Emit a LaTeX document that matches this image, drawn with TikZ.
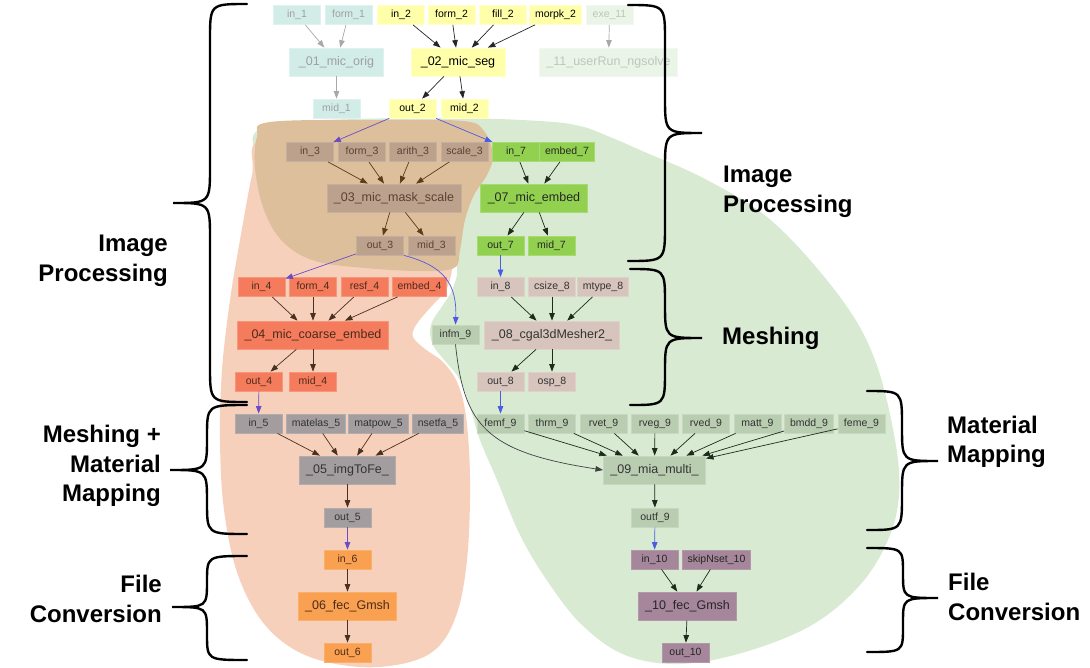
\documentclass[tikz,border=0pt]{standalone}
\usepackage{fontspec}
\setmainfont{Liberation Sans}
\usetikzlibrary{arrows.meta}
\definecolor{bgG}{HTML}{D9EAD3}
\definecolor{bgS}{HTML}{F7D0BC}
\definecolor{bgT}{HTML}{DDBF9C}
\definecolor{fA}{HTML}{D2ECE8}\definecolor{tA}{HTML}{A0A0A0}\definecolor{aA}{HTML}{A8A8A8}
\definecolor{fB}{HTML}{FFFFAA}
\definecolor{fK}{HTML}{EAF4E7}\definecolor{tK}{HTML}{BCC6BA}
\definecolor{fC}{HTML}{BCA18D}\definecolor{tC}{HTML}{5A4232}\definecolor{aC}{HTML}{5A3C1E}
\definecolor{fG}{HTML}{92D050}
\definecolor{fH}{HTML}{D7C4BC}
\definecolor{fD}{HTML}{F47C5C}\definecolor{tD}{HTML}{4A2A1C}
\definecolor{fI}{HTML}{B9CDB1}
\definecolor{fE}{HTML}{A39DA0}
\definecolor{fF}{HTML}{F9A150}
\definecolor{fJ}{HTML}{A6869B}
\definecolor{cP}{HTML}{6A4CC8}
\definecolor{cB}{HTML}{4A5CE6}
\definecolor{dk}{HTML}{1E2A1A}
\definecolor{brn}{HTML}{4A3020}
\newcommand\mybrace[7]{\draw[brc] (#1,#4) .. controls (#2,#4) .. (#2,{#4+#7}) -- (#2,{#5-#7}) .. controls (#2,#5) .. (#3,#5) .. controls (#2,#5) .. (#2,{#5+#7}) -- (#2,{#6-#7}) .. controls (#2,#6) .. (#1,#6);}
\begin{document}
\begin{tikzpicture}[x=1pt,y=-1pt,
  box/.style={rectangle, minimum width=47, minimum height=19, inner xsep=5.5pt, inner ysep=0pt, line width=0.8pt, font=\fontsize{10.5}{12}\selectfont},
  big/.style={box, minimum width=94, minimum height=28, inner xsep=7pt, font=\fontsize{12.5}{14}\selectfont},
  gA/.style={fill=fA, draw=fA!70!white, text=tA},
  gB/.style={fill=fB, draw=fB!60!white, text=black},
  gK/.style={fill=fK, draw=fK!60!white, text=tK},
  gC/.style={fill=fC, draw=fC!85!white, text=tC},
  gG/.style={fill=fG, draw=fG!80!white, text=black!85},
  gH/.style={fill=fH, draw=fH!80!white, text=black!80},
  gD/.style={fill=fD, draw=fD!80!white, text=tD},
  gI/.style={fill=fI, draw=fI!80!white, text=black!80},
  gE/.style={fill=fE, draw=fE!85!white, text=black!80},
  gF/.style={fill=fF, draw=fF!85!white, text=tD},
  gJ/.style={fill=fJ, draw=fJ!85!white, text=black!85},
  arr/.style={-{Triangle[length=7.5pt,width=5.5pt]}, line width=0.7pt},
  brc/.style={line width=2.4pt, black, line cap=round},
  lbl/.style={font=\fontsize{24}{29.5}\selectfont\bfseries, inner sep=0pt}
]
\useasboundingbox (0,0) rectangle (1090,667);
% background blobs
\fill[bgG] plot[smooth cycle, tension=0.6] coordinates {(262,128) (330,120) (450,118) (540,121) (580,126) (610,137) (640,150) (707,180) (773,222) (840,297) (875,360) (895,440) (899,495) (888,540) (860,585) (812,625) (745,652) (680,664) (625,655) (582,625) (548,582) (520,535) (497,480) (480,440) (470,407) (460,380) (446,362) (434,347) (430,333) (433,320) (443,305) (452,290) (457,268) (445,235) (380,200) (290,175) (256,150)};
\fill[bgS] plot[smooth cycle, tension=0.6] coordinates {(262,140) (252,175) (240,240) (230,300) (222,370) (220,440) (224,510) (238,575) (265,625) (305,655) (360,667) (410,662) (440,645) (458,610) (467,560) (470,500) (469,450) (465,410) (457,382) (443,362) (425,349) (413,337) (416,325) (430,308) (446,290) (452,270) (455,245) (440,200) (360,150)};
\fill[bgT] plot[smooth cycle, tension=0.6] coordinates {(270,122) (380,120) (463,121) (484,131) (493,155) (487,175) (474,195) (465,220) (460,250) (454,268) (420,271) (365,268) (315,261) (283,242) (264,210) (255,168) (257,137)};
% row 1
\node[box,gA] (in1) at (297,15) {in\_1};
\node[box,gA] (form1) at (348.5,15) {form\_1};
\node[box,gB] (in2) at (401,15) {in\_2};
\node[box,gB] (form2) at (451.5,15) {form\_2};
\node[box,gB] (fill2) at (503,15) {fill\_2};
\node[box,gB] (morpk2) at (555.5,15) {morpk\_2};
\node[box,gK] (exe11) at (609.5,15) {exe\_11};
% row 2
\node[big,gA] (m1) at (336.5,62) {\_01\_mic\_orig};
\node[big,gB] (m2) at (458,62) {\_02\_mic\_seg};
\node[big,gK] (m11) at (608.5,62) {\_11\_userRun\_ngsolve};
% row 3
\node[box,gA] (mid1) at (336.5,108.5) {mid\_1};
\node[box,gB] (out2) at (412.5,108.5) {out\_2};
\node[box,gB] (mid2) at (464.5,108.5) {mid\_2};
% row 4
\node[box,gC] (in3) at (310,152) {in\_3};
\node[box,gC] (form3) at (362,152) {form\_3};
\node[box,gC] (arith3) at (413,152) {arith\_3};
\node[box,gC] (scale3) at (464.5,152) {scale\_3};
\node[box,gG] (in7) at (516,152) {in\_7};
\node[box,gG] (embed7) at (567,152) {embed\_7};
% row 5
\node[big,gC] (m3) at (394,198) {\_03\_mic\_mask\_scale};
\node[big,gG] (m7) at (534,198) {\_07\_mic\_embed};
% row 6
\node[box,gC] (out3) at (380,245.5) {out\_3};
\node[box,gC] (mid3) at (431.5,245.5) {mid\_3};
\node[box,gG] (out7) at (500.5,245.5) {out\_7};
\node[box,gG] (mid7) at (551.5,245.5) {mid\_7};
% row 7
\node[box,gD] (in4) at (261.5,287) {in\_4};
\node[box,gD] (form4) at (313,287) {form\_4};
\node[box,gD] (resf4) at (364.5,287) {resf\_4};
\node[box,gD] (embed4) at (419.5,287) {embed\_4};
\node[box,gH] (in8) at (500.5,287) {in\_8};
\node[box,gH] (csize8) at (552,287) {csize\_8};
\node[box,gH] (mtype8) at (603,287) {mtype\_8};
% row 8
\node[big,gD] (m4) at (313,335) {\_04\_mic\_coarse\_embed};
\node[box,gI] (infm9) at (455.5,334.5) {infm\_9};
\node[big,gH] (m8) at (552,335) {\_08\_cgal3dMesher2\_};
% row 9
\node[box,gD] (out4) at (259,381.5) {out\_4};
\node[box,gD] (mid4) at (313,381.5) {mid\_4};
\node[box,gH] (out8) at (500.5,381.5) {out\_8};
\node[box,gH] (osp8) at (552,381.5) {osp\_8};
% row 10
\node[box,gE] (in5) at (258.5,423.5) {in\_5};
\node[box,gE] (matelas5) at (316,423.5) {matelas\_5};
\node[box,gE] (matpow5) at (378.5,423.5) {matpow\_5};
\node[box,gE] (nsetfa5) at (438,423.5) {nsetfa\_5};
\node[box,gI] (femf9) at (500.5,423.5) {femf\_9};
\node[box,gI] (thrm9) at (552,423.5) {thrm\_9};
\node[box,gI] (rvet9) at (603.5,423.5) {rvet\_9};
\node[box,gI] (rveg9) at (655,423.5) {rveg\_9};
\node[box,gI] (rved9) at (706,423.5) {rved\_9};
\node[box,gI] (matt9) at (757.5,423.5) {matt\_9};
\node[box,gI] (bmdd9) at (809,423.5) {bmdd\_9};
\node[box,gI] (feme9) at (861.5,423.5) {feme\_9};
% row 11
\node[big,gE] (m5) at (347.5,470) {\_05\_imgToFe\_};
\node[big,gI] (m9) at (654.5,470) {\_09\_mia\_multi\_};
% row 12
\node[box,gE] (out5) at (347.5,517.5) {out\_5};
\node[box,gI] (outf9) at (655,517.5) {outf\_9};
% row 13
\node[box,gF] (in6) at (347.5,559.5) {in\_6};
\node[box,gJ] (in10) at (654.5,559.5) {in\_10};
\node[box,gJ] (skip10) at (716.5,559.5) {skipNset\_10};
% row 14
\node[big,gF] (m6) at (347.5,606) {\_06\_fec\_Gmsh};
\node[big,gJ] (m10) at (687.5,606) {\_10\_fec\_Gmsh};
% row 15
\node[box,gF] (out6) at (347.5,652.5) {out\_6};
\node[box,gJ] (out10) at (685.5,652.5) {out\_10};
% edges
\foreach \s in {in1,form1} \draw[arr,aA] (\s) -- (m1);
\draw[arr,aA] (m1) -- (mid1);
\draw[arr,aA] (exe11) -- (m11);
\foreach \s in {in2,form2,fill2,morpk2} \draw[arr,black!85] (\s) -- (m2);
\foreach \t in {out2,mid2} \draw[arr,black!85] (m2) -- (\t);
\draw[arr,cP] (out2) -- (in3);
\draw[arr,cB] (out2) -- (in7);
\foreach \s in {in3,form3,arith3,scale3} \draw[arr,aC] (\s) -- (m3);
\foreach \t in {out3,mid3} \draw[arr,aC] (m3) -- (\t);
\foreach \s in {in7,embed7} \draw[arr,dk] (\s) -- (m7);
\foreach \t in {out7,mid7} \draw[arr,dk] (m7) -- (\t);
\draw[arr,cP] (out3) -- (in4);
\draw[arr,cB!80!cP] (out3.south east) .. controls (445,266) and (457,285) .. (infm9.north);
\draw[arr,cB] (out7) -- (in8);
\foreach \s in {in4,form4,resf4,embed4} \draw[arr,brn] (\s) -- (m4);
\foreach \t in {out4,mid4} \draw[arr,brn] (m4) -- (\t);
\foreach \s in {in8,csize8,mtype8} \draw[arr,dk] (\s) -- (m8);
\foreach \t in {out8,osp8} \draw[arr,dk] (m8) -- (\t);
\draw[arr,cP] (out4) -- (in5);
\draw[arr,cB] (out8) -- (femf9);
\foreach \s in {in5,matelas5,matpow5,nsetfa5} \draw[arr,brn] (\s) -- (m5);
\draw[arr,brn] (m5) -- (out5);
\foreach \s in {femf9,thrm9,rvet9,rveg9,rved9,matt9,bmdd9,feme9} \draw[arr,dk] (\s) -- (m9);
\draw[arr,black!75] (infm9.south) .. controls (464,425) and (485,452) .. (m9.west);
\draw[arr,dk] (m9) -- (outf9);
\draw[arr,cP] (out5) -- (in6);
\draw[arr,cB] (outf9) -- (in10);
\draw[arr,brn] (in6) -- (m6);
\draw[arr,brn] (m6) -- (out6);
\foreach \s in {in10,skip10} \draw[arr,dk] (\s) -- (m10);
\draw[arr,dk] (m10) -- (out10);
% braces
\mybrace{247}{210}{173}{4}{203}{402}{36}
\mybrace{247}{207}{170}{405}{470}{534}{32}
\mybrace{247}{207}{172}{556}{607}{660}{26}
\mybrace{628}{665}{702}{5}{133}{261}{36}
\mybrace{630}{665}{702}{269}{338}{405}{34}
\mybrace{867}{902}{938}{391}{461}{530}{34}
\mybrace{867}{903}{938}{548}{598}{652}{25}
% labels
\node[lbl, anchor=east, align=right] (lIP) at (168,261) {Image\\Processing};
\node[lbl, anchor=east, align=right] (lMM) at (161,466) {Meshing +\\Material\\Mapping};
\node[lbl, anchor=east, align=right] (lFC) at (162,599) {File\\Conversion};
\node[lbl, anchor=west, align=left] (rIP) at (723,192) {Image\\Processing};
\node[lbl, anchor=west, align=left] (rME) at (722,338) {Meshing};
\node[lbl, anchor=west, align=left] (rMM) at (947,442) {Material\\Mapping};
\node[lbl, anchor=west, align=left] (rFC) at (948,597) {File\\Conversion};
\end{tikzpicture}
\end{document}
